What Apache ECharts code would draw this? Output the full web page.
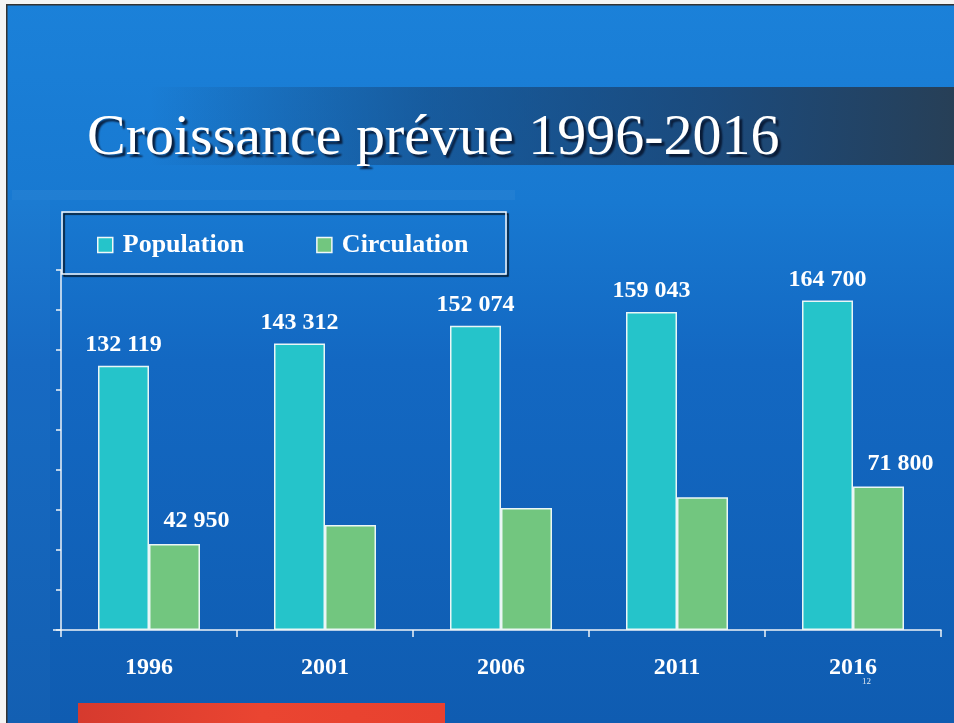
<!DOCTYPE html>
<html>
<head>
<meta charset="utf-8">
<script src="https://cdn.jsdelivr.net/npm/echarts@6/dist/echarts.min.js"></script>
<style>
html,body{margin:0;padding:0;background:#1a7ed6;}
#chart{width:954px;height:723px;}
</style>
</head>
<body>
<div id="chart"></div>
<script>
// ---- data ----
var titleText = 'Croissance prévue 1996-2016';
var categories = ['1996', '2001', '2006', '2011', '2016'];
var seriesNames = ['Population', 'Circulation'];
var populationValues = [132119, 143312, 152074, 159043, 164700];
var circulationValues = [42950, 52500, 61000, 66400, 71800];
var circulationLabelShown = [true, false, false, false, true];
var slideNumber = '12';

// ---- styles ----
var SERIF = "'Liberation Serif', 'Times New Roman', 'DejaVu Serif', serif";
var POP_COLOR = '#25c4ca';
var CIRC_COLOR = '#72c67f';

function fmt(v) {
  return String(v).replace(/\B(?=(\d{3})+(?!\d))/g, ' ');
}

var labelStyle = {
  color: '#ffffff',
  fontFamily: SERIF,
  fontWeight: 'bold',
  fontSize: 24
};

var circData = circulationValues.map(function (v, i) {
  return {
    value: v,
    label: { show: circulationLabelShown[i] }
  };
});

var chart = echarts.init(document.getElementById('chart'), null, { renderer: 'canvas' });

var option = {
  backgroundColor: '#1a7ed6',
  animation: false,
  title: {
    text: titleText,
    left: 87,
    top: 110,
    padding: 0,
    textStyle: {
      fontFamily: SERIF,
      fontWeight: 'normal',
      fontSize: 58,
      color: '#ffffff',
      textShadowColor: 'rgba(5,20,45,0.9)',
      textShadowBlur: 2,
      textShadowOffsetX: 3,
      textShadowOffsetY: 3
    }
  },
  graphic: [
    {
      type: 'rect', z: -10, silent: true,
      shape: { x: 0, y: 0, width: 954, height: 723 },
      style: {
        fill: {
          type: 'linear', x: 0, y: 0, x2: 0, y2: 1,
          colorStops: [
            { offset: 0, color: '#1b81d9' },
            { offset: 0.28, color: '#1879d1' },
            { offset: 0.5, color: '#1368c2' },
            { offset: 1, color: '#0f5cb1' }
          ]
        }
      }
    },
    {
      type: 'rect', z: -9, silent: true,
      shape: { x: 150, y: 87, width: 804, height: 78 },
      style: {
        fill: {
          type: 'linear', x: 0, y: 0, x2: 1, y2: 0,
          colorStops: [
            { offset: 0, color: 'rgba(20,45,80,0)' },
            { offset: 0.35, color: 'rgba(20,50,90,0.45)' },
            { offset: 0.7, color: 'rgba(28,58,95,0.75)' },
            { offset: 1, color: 'rgba(40,60,80,0.95)' }
          ]
        }
      }
    },
    {
      type: 'rect', z: -9, silent: true,
      shape: { x: 12, y: 190, width: 503, height: 10 },
      style: { fill: 'rgba(255,255,255,0.04)' }
    },
    {
      type: 'rect', z: -9, silent: true,
      shape: { x: 7, y: 200, width: 43, height: 523 },
      style: { fill: 'rgba(255,255,255,0.02)' }
    },
    {
      type: 'rect', z: -8, silent: true,
      shape: { x: 0, y: 0, width: 6, height: 723 },
      style: { fill: '#f4f4f4' }
    },
    {
      type: 'rect', z: -8, silent: true,
      shape: { x: 6, y: 0, width: 1.5, height: 723 },
      style: { fill: '#333333' }
    },
    {
      type: 'rect', z: -8, silent: true,
      shape: { x: 0, y: 0, width: 954, height: 4 },
      style: { fill: '#f4f4f4' }
    },
    {
      type: 'rect', z: -8, silent: true,
      shape: { x: 6, y: 4, width: 948, height: 1.5 },
      style: { fill: '#333333' }
    },
    {
      type: 'rect', z: -8, silent: true,
      shape: { x: 78, y: 703, width: 367, height: 20 },
      style: {
        fill: {
          type: 'linear', x: 0, y: 0, x2: 1, y2: 0,
          colorStops: [
            { offset: 0, color: '#d63a2e' },
            { offset: 0.5, color: '#ea4531' },
            { offset: 1, color: '#e8412f' }
          ]
        }
      }
    },
    {
      type: 'rect', z: 5, silent: true,
      shape: { x: 62, y: 212, width: 444, height: 62 },
      style: {
        fill: 'none',
        stroke: '#f2f6fa',
        lineWidth: 1.5,
        shadowColor: 'rgba(0,0,0,0.85)',
        shadowBlur: 1,
        shadowOffsetX: 2,
        shadowOffsetY: 2
      }
    },
    {
      type: 'line', z: 5, silent: true,
      shape: { x1: 53, y1: 630, x2: 61, y2: 630 },
      style: { stroke: '#eef3f8', lineWidth: 1.5 }
    },
    {
      type: 'text', z: 5, silent: true,
      left: 862, top: 677,
      style: {
        text: slideNumber,
        font: '9px ' + SERIF,
        fill: '#e0e8f0'
      }
    }
  ],
  legend: {
    left: 97,
    top: 232,
    padding: 0,
    itemGap: 72,
    itemWidth: 15,
    itemHeight: 15,
    icon: 'rect',
    data: seriesNames,
    itemStyle: { borderColor: '#f0f8f8', borderWidth: 1.5 },
    textStyle: {
      color: '#ffffff',
      fontFamily: SERIF,
      fontWeight: 'bold',
      fontSize: 26,
      padding: [0, 0, 0, 5]
    }
  },
  grid: {
    left: 61,
    right: 13,
    top: 270,
    bottom: 93,
    containLabel: false
  },
  xAxis: {
    type: 'category',
    data: categories,
    boundaryGap: true,
    axisLine: { show: true, lineStyle: { color: '#eef3f8', width: 1.5 } },
    axisTick: { show: true, alignWithLabel: false, length: 7, lineStyle: { color: '#eef3f8', width: 1.5 } },
    axisLabel: {
      color: '#ffffff',
      fontFamily: SERIF,
      fontWeight: 'bold',
      fontSize: 24,
      margin: 26
    },
    splitLine: { show: false }
  },
  yAxis: {
    type: 'value',
    min: 0,
    max: 180000,
    interval: 20000,
    axisLine: { show: true, lineStyle: { color: '#eef3f8', width: 1.5 } },
    axisTick: { show: true, length: 5, lineStyle: { color: '#eef3f8', width: 1.5 } },
    axisLabel: { show: false },
    splitLine: { show: false }
  },
  series: [
    {
      name: seriesNames[0],
      type: 'bar',
      data: populationValues,
      barWidth: 51,
      barGap: '0%',
      itemStyle: { color: POP_COLOR, borderColor: '#eaf6f6', borderWidth: 1.5 },
      label: Object.assign({
        show: true,
        position: 'top',
        distance: 9,
        formatter: function (p) { return fmt(p.value); }
      }, labelStyle)
    },
    {
      name: seriesNames[1],
      type: 'bar',
      data: circData,
      barWidth: 51,
      barGap: '0%',
      itemStyle: { color: CIRC_COLOR, borderColor: '#eaf6f6', borderWidth: 1.5 },
      label: Object.assign({
        show: true,
        position: 'top',
        distance: 9,
        offset: [22, -2],
        formatter: function (p) { return fmt(p.value); }
      }, labelStyle)
    }
  ]
};

chart.setOption(option);
</script>
</body>
</html>
